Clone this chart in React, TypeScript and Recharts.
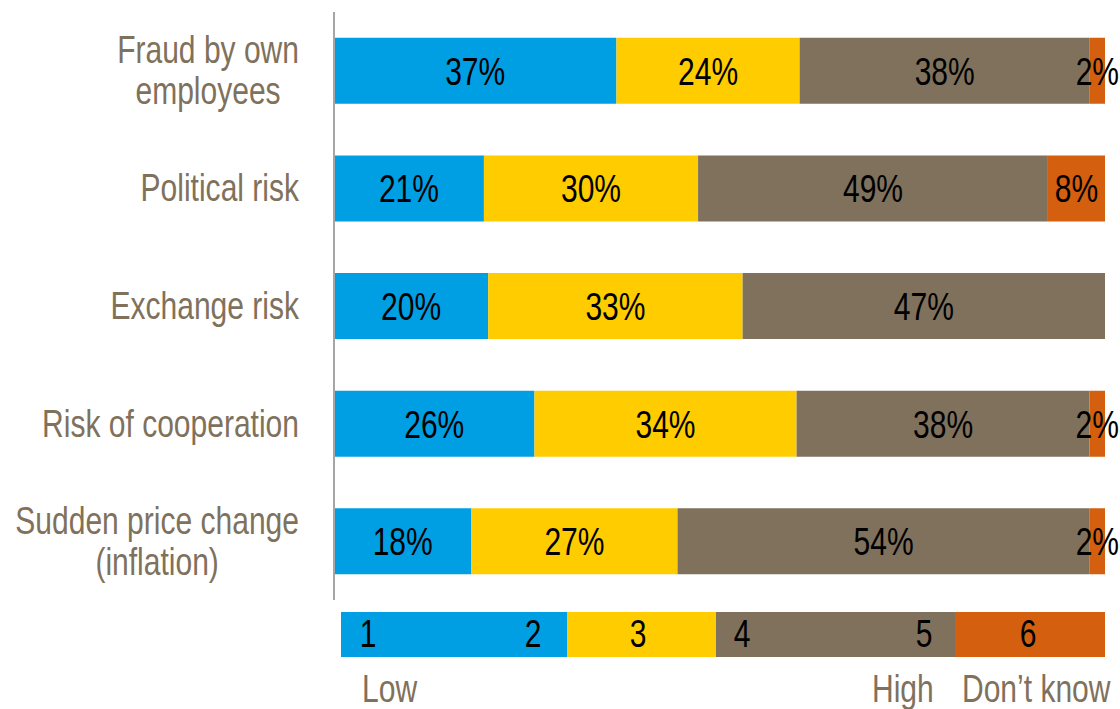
import React from 'react'
import { BarChart, Bar, XAxis, YAxis, LabelList } from 'recharts'

// survey answers per risk, share of respondents (%)
const categories = [
  'Fraud by own\nemployees',
  'Political risk',
  'Exchange risk',
  'Risk of cooperation',
  'Sudden price change\n(inflation)',
]
const low = [37, 21, 20, 26, 18] // answers 1-2
const medium = [24, 30, 33, 34, 27] // answer 3
const high = [38, 49, 47, 38, 54] // answers 4-5
const dontKnow = [2, 8, 0, 2, 2] // answer 6

// scale legend underneath
const scaleSteps = ['1', '2', '3', '4', '5', '6']
const scaleEnds = ['Low', 'High', 'Don’t know']

// no Arial Narrow available, so squeeze Liberation Sans horizontally
const FONT = '"Liberation Sans", Arial, sans-serif'
const FS = 38
const SQUEEZE = 0.79
const BLUE = '#009FE3'
const YELLOW = '#FFCC00'
const GREY = '#7F715C'
const ORANGE = '#D35F0F'

const data = categories.map((name, i) => ({
  name,
  low: low[i],
  medium: medium[i],
  high: high[i],
  dontKnow: dontKnow[i],
}))

let measureCtx: CanvasRenderingContext2D | null = null
function textWidth(s: string) {
  if (!measureCtx) {
    measureCtx = document.createElement('canvas').getContext('2d')
    if (measureCtx) measureCtx.font = `${FS}px ${FONT}`
  }
  return (measureCtx ? measureCtx.measureText(s).width : s.length * 18) * SQUEEZE
}

function NarrowText({ x, y, anchor = 'start', fill, children }: any) {
  return (
    <g transform={`translate(${x},${y}) scale(${SQUEEZE},1)`}>
      <text x={0} y={0} textAnchor={anchor} fill={fill} fontSize={FS} fontFamily={FONT}>
        {children}
      </text>
    </g>
  )
}

function CategoryTick(props: any) {
  const { x, y, payload } = props
  const lines = String(payload.value).split('\n')
  const lh = 41
  const first = y + 13 - ((lines.length - 1) * lh) / 2
  const maxW = Math.max(...lines.map(textWidth))
  const multi = lines.length > 1
  return (
    <g>
      {lines.map((l, i) => (
        <NarrowText
          key={i}
          x={multi ? x - maxW / 2 : x}
          y={first + i * lh}
          anchor={multi ? 'middle' : 'end'}
          fill={GREY}
        >
          {l}
        </NarrowText>
      ))}
    </g>
  )
}

function SegmentLabel(props: any) {
  const { x, y, width, height, value } = props
  if (!value) return null
  return (
    <NarrowText x={x + width / 2} y={y + height / 2 + 14} anchor="middle" fill="#000">
      {`${value}%`}
    </NarrowText>
  )
}

function ScaleLegend() {
  const segs = [
    { x: 341, w: 226, fill: BLUE },
    { x: 567, w: 149, fill: YELLOW },
    { x: 716, w: 239, fill: GREY },
    { x: 955, w: 150, fill: ORANGE },
  ]
  const stepX = [368, 533, 638, 742, 924, 1028]
  const endX = [362, 872, 962]
  return (
    <svg
      width={1120}
      height={709}
      style={{ position: 'absolute', left: 0, top: 0, pointerEvents: 'none' }}
    >
      {segs.map((s, i) => (
        <rect key={i} x={s.x} y={612} width={s.w} height={45} fill={s.fill} />
      ))}
      {scaleSteps.map((s, i) => (
        <NarrowText key={s} x={stepX[i]} y={647} anchor="middle" fill="#000">
          {s}
        </NarrowText>
      ))}
      {scaleEnds.map((s, i) => (
        <NarrowText key={s} x={endX[i]} y={702} fill={GREY}>
          {s}
        </NarrowText>
      ))}
    </svg>
  )
}

export default function App() {
  return (
    <div style={{ position: 'relative', width: 1120, height: 709, background: '#fff' }}>
      <style>{'body{margin:0}'}</style>
      <BarChart
        width={1120}
        height={709}
        data={data}
        layout="vertical"
        stackOffset="expand"
        barCategoryGap="22%"
        margin={{ top: 12, right: 15, bottom: 109, left: 0 }}
      >
        <XAxis type="number" domain={[0, 1]} hide />
        <YAxis
          type="category"
          dataKey="name"
          width={334}
          axisLine={{ stroke: '#A6A6A6', strokeWidth: 2 }}
          tickLine={false}
          tickSize={0}
          tickMargin={35}
          tick={<CategoryTick />}
          interval={0}
        />
        <Bar dataKey="low" stackId="a" fill={BLUE} isAnimationActive={false}>
          <LabelList dataKey="low" content={<SegmentLabel />} />
        </Bar>
        <Bar dataKey="medium" stackId="a" fill={YELLOW} isAnimationActive={false}>
          <LabelList dataKey="medium" content={<SegmentLabel />} />
        </Bar>
        <Bar dataKey="high" stackId="a" fill={GREY} isAnimationActive={false}>
          <LabelList dataKey="high" content={<SegmentLabel />} />
        </Bar>
        <Bar dataKey="dontKnow" stackId="a" fill={ORANGE} isAnimationActive={false}>
          <LabelList dataKey="dontKnow" content={<SegmentLabel />} />
        </Bar>
      </BarChart>
      <ScaleLegend />
    </div>
  )
}
